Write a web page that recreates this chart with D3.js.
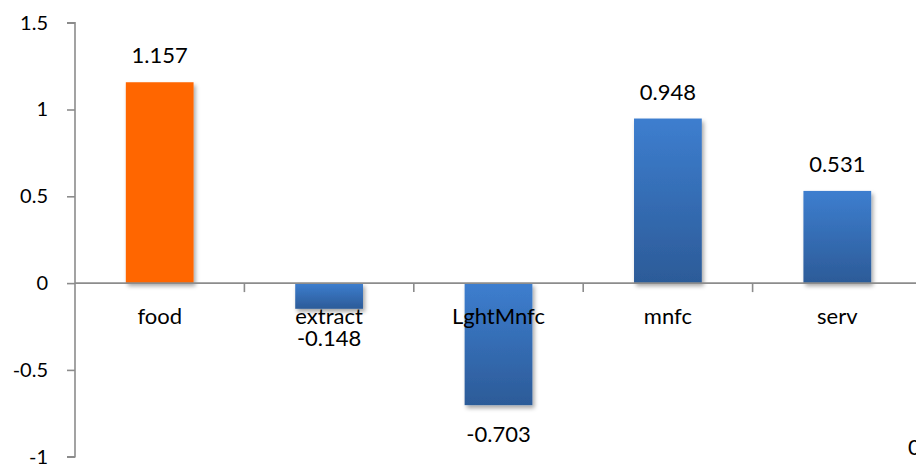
<!DOCTYPE html>
<html>
<head>
<meta charset="utf-8">
<script src="https://cdn.jsdelivr.net/npm/d3@7"></script>
<style>
  html, body { margin: 0; padding: 0; background: #fff; }
  svg { display: block; font-family: Lato, "Open Sans", sans-serif; }
</style>
</head>
<body>
<svg id="chart" width="916" height="464"></svg>
<script>
// Sector values
const categories = ["food", "extract", "LghtMnfc", "mnfc", "serv"];
const values = [1.157, -0.148, -0.703, 0.948, 0.531];
const yTicks = [-1, -0.5, 0, 0.5, 1, 1.5];
const labels = ["1.157", "-0.148", "-0.703", "0.948", "0.531"];
const highlighted = "food";

const svg = d3.select("#chart");
const axisColor = "#8c8c8c";

const x = d3.scaleBand().domain(categories).range([75, 922]).padding(0);
const y = d3.scaleLinear().domain([-1, 1.5]).range([456.7, 22.7]);

const defs = svg.append("defs");
const grad = defs.append("linearGradient")
  .attr("id", "blueGrad").attr("x1", 0).attr("y1", 0).attr("x2", 0).attr("y2", 1);
grad.append("stop").attr("offset", "0%").attr("stop-color", "#3d7ecf");
grad.append("stop").attr("offset", "100%").attr("stop-color", "#2c5b98");

const shadow = defs.append("filter").attr("id", "shadow")
  .attr("x", "-20%").attr("y", "-20%").attr("width", "150%").attr("height", "150%");
shadow.append("feDropShadow")
  .attr("dx", 2).attr("dy", 3).attr("stdDeviation", 2.2)
  .attr("flood-color", "#000").attr("flood-opacity", 0.35);

const data = categories.map((c, i) => ({ cat: c, value: values[i], label: labels[i] }));
const barFrac = 0.4;

// Bars
svg.append("g").selectAll("rect")
  .data(data)
  .join("rect")
  .attr("x", d => x(d.cat) + x.bandwidth() * (1 - barFrac) / 2)
  .attr("width", x.bandwidth() * barFrac)
  .attr("y", d => y(Math.max(0, d.value)))
  .attr("height", d => Math.abs(y(d.value) - y(0)))
  .attr("fill", d => d.cat === highlighted ? "#ff6600" : "url(#blueGrad)")
  .attr("filter", "url(#shadow)");

// Y axis (plain hyphen for negatives)
const yAxis = svg.append("g")
  .attr("transform", `translate(${x.range()[0]},0)`)
  .call(d3.axisLeft(y).tickValues(yTicks).tickSize(8).tickPadding(19)
    .tickFormat(d => String(d)));
yAxis.select(".domain").attr("stroke", axisColor).attr("stroke-width", 1.6)
  .attr("d", `M-8,${y(1.5)}H0V${y(-1)}H-8`);
yAxis.selectAll(".tick line").attr("stroke", axisColor).attr("stroke-width", 1.6);
yAxis.selectAll(".tick text")
  .attr("fill", "#000").style("font-size", "20px")
  .attr("font-family", "Lato, 'Open Sans', sans-serif");

// Zero line with category dividers
const zeroG = svg.append("g");
zeroG.append("line")
  .attr("x1", x.range()[0]).attr("x2", 916)
  .attr("y1", y(0)).attr("y2", y(0))
  .attr("stroke", axisColor).attr("stroke-width", 1.6);
zeroG.selectAll("line.div")
  .data(categories.slice(1).concat(["__end"]))
  .join("line")
  .attr("class", "div")
  .attr("x1", (d, i) => x.range()[0] + x.step() * (i + 1))
  .attr("x2", (d, i) => x.range()[0] + x.step() * (i + 1))
  .attr("y1", y(0)).attr("y2", y(0) + 9)
  .attr("stroke", axisColor).attr("stroke-width", 1.6);

// Category labels
svg.append("g").selectAll("text")
  .data(data)
  .join("text")
  .attr("x", d => x(d.cat) + x.bandwidth() / 2)
  .attr("y", y(0) + 41)
  .attr("text-anchor", "middle")
  .style("font-size", "22px")
  .attr("fill", "#000")
  .text(d => d.cat);

// Value labels
svg.append("g").selectAll("text")
  .data(data)
  .join("text")
  .attr("x", d => x(d.cat) + x.bandwidth() / 2)
  .attr("y", d => d.value >= 0 ? y(d.value) - 19 : y(d.value) + 37)
  .attr("text-anchor", "middle")
  .style("font-size", "22px")
  .attr("fill", "#000")
  .text(d => d.label);

// Secondary axis label at the right edge
svg.append("text")
  .attr("x", 908).attr("y", 455)
  .style("font-size", "22px")
  .attr("fill", "#000")
  .text("0");
</script>
</body>
</html>
